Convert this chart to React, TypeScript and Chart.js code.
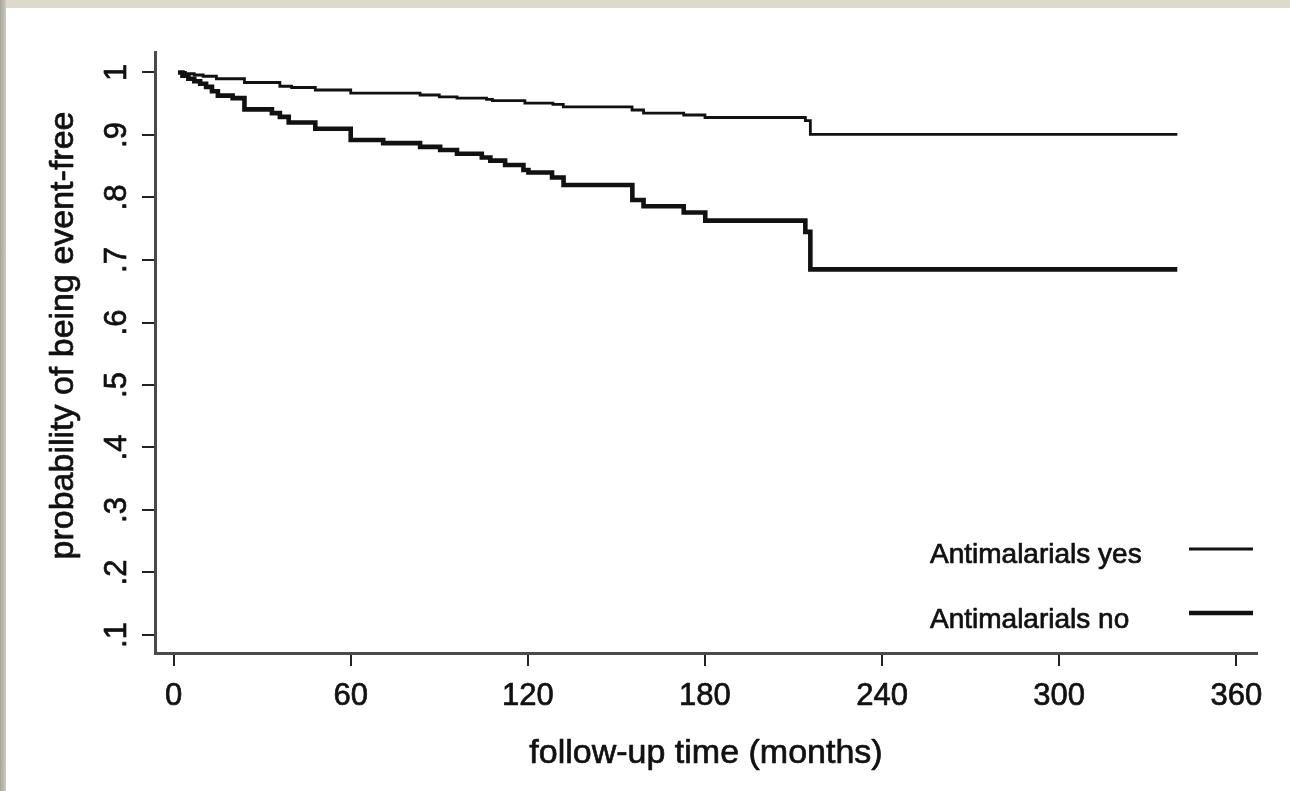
import React, { useEffect, useRef } from 'react';
import { Chart, registerables } from 'chart.js';

Chart.register(...registerables);

// ---- data (Kaplan-Meier step estimates) ----
const seriesLabels = ['Antimalarials yes', 'Antimalarials no'];

const yesTimes = [1.5, 4, 7, 10, 14.5, 24, 36, 40, 48, 60, 83.5, 90, 96, 106, 108, 119, 128.5, 132, 155.3, 159.2, 172.8, 180, 214, 215.7, 340];
const yesSurv = [1.0, 0.998, 0.996, 0.994, 0.99, 0.984, 0.978, 0.976, 0.972, 0.967, 0.964, 0.961, 0.959, 0.957, 0.955, 0.951, 0.949, 0.945, 0.94, 0.935, 0.932, 0.928, 0.923, 0.901, 0.901];

const noTimes = [1.5, 3, 5, 7, 9, 11, 13, 15, 20, 24, 33.3, 36, 39, 48, 60, 71, 83.5, 90.3, 96, 104.4, 107.3, 112.3, 118.5, 120.2, 128.2, 132.1, 155.4, 159.2, 172.8, 180.1, 214, 215.7, 340];
const noSurv = [1.0, 0.995, 0.99, 0.986, 0.982, 0.977, 0.97, 0.963, 0.959, 0.941, 0.935, 0.929, 0.92, 0.91, 0.892, 0.887, 0.881, 0.876, 0.87, 0.864, 0.859, 0.852, 0.844, 0.84, 0.832, 0.82, 0.796, 0.786, 0.776, 0.763, 0.745, 0.685, 0.685];

const xTicks = [0, 60, 120, 180, 240, 300, 360];
const yTicks = [0.1, 0.2, 0.3, 0.4, 0.5, 0.6, 0.7, 0.8, 0.9, 1.0];
const yTickLabels = ['.1', '.2', '.3', '.4', '.5', '.6', '.7', '.8', '.9', '1'];
const xTitle = 'follow-up time (months)';
const yTitle = 'probability of being event-free';

const FONT = '"Liberation Sans", Arial, Helvetica, sans-serif';
const INK = '#111111';
const lineWidths = [2.8, 4.6];
const TEXT_STROKE = 0.7;

function drawText(ctx: CanvasRenderingContext2D, text: string, x: number, y: number) {
  ctx.fillText(text, x, y);
  ctx.strokeText(text, x, y);
}

const overlayPlugin = {
  id: 'overlay',
  afterDraw(chart: any) {
    const { ctx, chartArea, scales } = chart;
    const ys = scales.y;
    ctx.save();
    ctx.fillStyle = INK;
    ctx.strokeStyle = INK;
    ctx.lineWidth = TEXT_STROKE;
    ctx.lineJoin = 'round';

    // y tick labels, rotated like Stata
    ctx.font = `31px ${FONT}`;
    ctx.textAlign = 'center';
    ctx.textBaseline = 'alphabetic';
    yTicks.forEach((v, i) => {
      const py = ys.getPixelForValue(v);
      ctx.save();
      ctx.translate(chartArea.left - 29, py);
      ctx.rotate(-Math.PI / 2);
      drawText(ctx, yTickLabels[i], 0, 0);
      ctx.restore();
    });

    // y title
    ctx.font = `34px ${FONT}`;
    ctx.save();
    ctx.translate(chartArea.left - 82, (chartArea.top + chartArea.bottom) / 2 - 17);
    ctx.rotate(-Math.PI / 2);
    drawText(ctx, yTitle, 0, 0);
    ctx.restore();

    // x title
    drawText(ctx, xTitle, (chartArea.left + chartArea.right) / 2, chartArea.bottom + 110);

    // legend (text left, line sample right)
    ctx.font = `28px ${FONT}`;
    ctx.textAlign = 'left';
    const rows = [
      { baseline: chartArea.bottom - 90, lineY: chartArea.bottom - 104 },
      { baseline: chartArea.bottom - 25, lineY: chartArea.bottom - 40 },
    ];
    chart.data.datasets.forEach((ds: any, i: number) => {
      const r = rows[i];
      ctx.lineWidth = TEXT_STROKE;
      drawText(ctx, ds.label, chartArea.right - 327, r.baseline);
      ctx.beginPath();
      ctx.lineWidth = ds.borderWidth;
      ctx.moveTo(chartArea.right - 68, r.lineY);
      ctx.lineTo(chartArea.right - 4, r.lineY);
      ctx.stroke();
    });
    ctx.restore();
  },
};

export default function App() {
  const canvasRef = useRef<HTMLCanvasElement | null>(null);

  useEffect(() => {
    const canvas = canvasRef.current;
    if (!canvas) return;
    const toPoints = (xs: number[], ys: number[]) => xs.map((x, i) => ({ x, y: ys[i] }));
    const chart = new Chart(canvas, {
      type: 'line',
      data: {
        datasets: [
          {
            label: seriesLabels[0],
            data: toPoints(yesTimes, yesSurv),
            borderColor: INK,
            borderWidth: lineWidths[0],
            stepped: true,
            pointRadius: 0,
            fill: false,
          },
          {
            label: seriesLabels[1],
            data: toPoints(noTimes, noSurv),
            borderColor: INK,
            borderWidth: lineWidths[1],
            stepped: true,
            pointRadius: 0,
            fill: false,
          },
        ],
      },
      options: {
        animation: false,
        responsive: false,
        devicePixelRatio: 1,
        layout: { padding: { left: 0, top: 44, right: 33, bottom: 0 } },
        plugins: {
          legend: { display: false },
          tooltip: { enabled: false },
        },
        scales: {
          x: {
            type: 'linear',
            min: -6.3,
            max: 367,
            afterBuildTicks: (s: any) => {
              s.ticks = xTicks.map((v) => ({ value: v }));
            },
            afterFit: (s: any) => {
              s.height = 138;
            },
            ticks: {
              color: INK,
              font: { family: FONT, size: 31 },
              padding: 12,
              maxRotation: 0,
              autoSkip: false,
              textStrokeColor: INK,
              textStrokeWidth: TEXT_STROKE,
              callback: (v: any) => String(v),
            },
            grid: {
              display: true,
              drawOnChartArea: false,
              drawTicks: true,
              tickLength: 13,
              color: '#222',
              lineWidth: 2,
            },
            border: { display: true, color: '#4a4a4a', width: 3 },
          },
          y: {
            type: 'linear',
            min: 0.0712,
            max: 1.0328,
            afterBuildTicks: (s: any) => {
              s.ticks = yTicks.map((v) => ({ value: v }));
            },
            afterFit: (s: any) => {
              s.width = 149;
            },
            ticks: { display: false },
            grid: {
              display: true,
              drawOnChartArea: false,
              drawTicks: true,
              tickLength: 13,
              color: '#222',
              lineWidth: 2,
            },
            border: { display: true, color: '#4a4a4a', width: 3 },
          },
        },
      },
      plugins: [overlayPlugin],
    } as any);
    return () => chart.destroy();
  }, []);

  return (
    <div
      style={{
        position: 'absolute',
        left: 0,
        top: 0,
        width: 1290,
        height: 791,
        background: '#dddacc',
        overflow: 'hidden',
      }}
    >
      <div
        style={{
          position: 'absolute',
          left: 0,
          top: 0,
          width: 6,
          height: 791,
          background: 'linear-gradient(to right, #a8a699, #cdcbbf)',
        }}
      />
      <div
        style={{
          position: 'absolute',
          left: 6,
          top: 8,
          width: 1284,
          height: 783,
          background: '#ffffff',
        }}
      >
        <canvas ref={canvasRef} width={1284} height={783} style={{ display: 'block', width: 1284, height: 783 }} />
      </div>
    </div>
  );
}
